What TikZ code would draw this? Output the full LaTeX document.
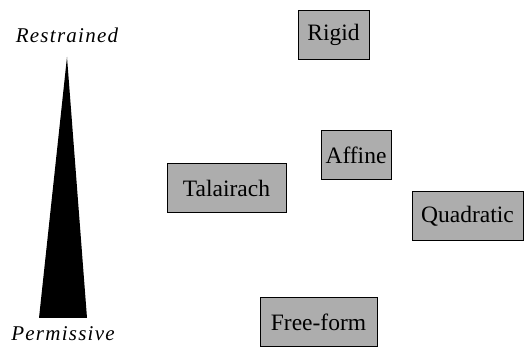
\documentclass[tikz,border=0pt]{standalone}
\usepackage{fontspec}
\setmainfont{Liberation Serif}
\newfontfamily\labelfont[LetterSpace=6]{Liberation Serif}
\begin{document}
\begin{tikzpicture}[x=1pt,y=-1pt,
  tbox/.style={draw=black,line width=1pt,fill=black!32,minimum height=49pt,
    inner sep=0pt,font=\fontsize{23.5}{26}\selectfont},
  sidelab/.style={anchor=base,font=\labelfont\itshape\fontsize{21}{24}\selectfont}]
\useasboundingbox (0,0) rectangle (525,347);
\node[sidelab] (restr) at (67,43) {Restrained};
\node[sidelab] (perm) at (63,341) {Permissive};
\coordinate (apex) at (67,57);
\coordinate (bl) at (39,318);
\coordinate (br) at (87,318);
\fill[black] (apex) -- (br) -- (bl) -- cycle;
\node[tbox,minimum width=71pt] (rigid) at (333.5,35) {Rigid};
\node[tbox,minimum width=70pt] (affine) at (356,155.5) {Affine};
\node[tbox,minimum width=119pt] (tal) at (226.5,188) {Talairach};
\node[tbox,minimum width=111pt] (quad) at (467.5,216.5) {Quadratic};
\node[tbox,minimum width=117pt] (free) at (318.5,322.5) {Free-form};
\end{tikzpicture}
\end{document}
